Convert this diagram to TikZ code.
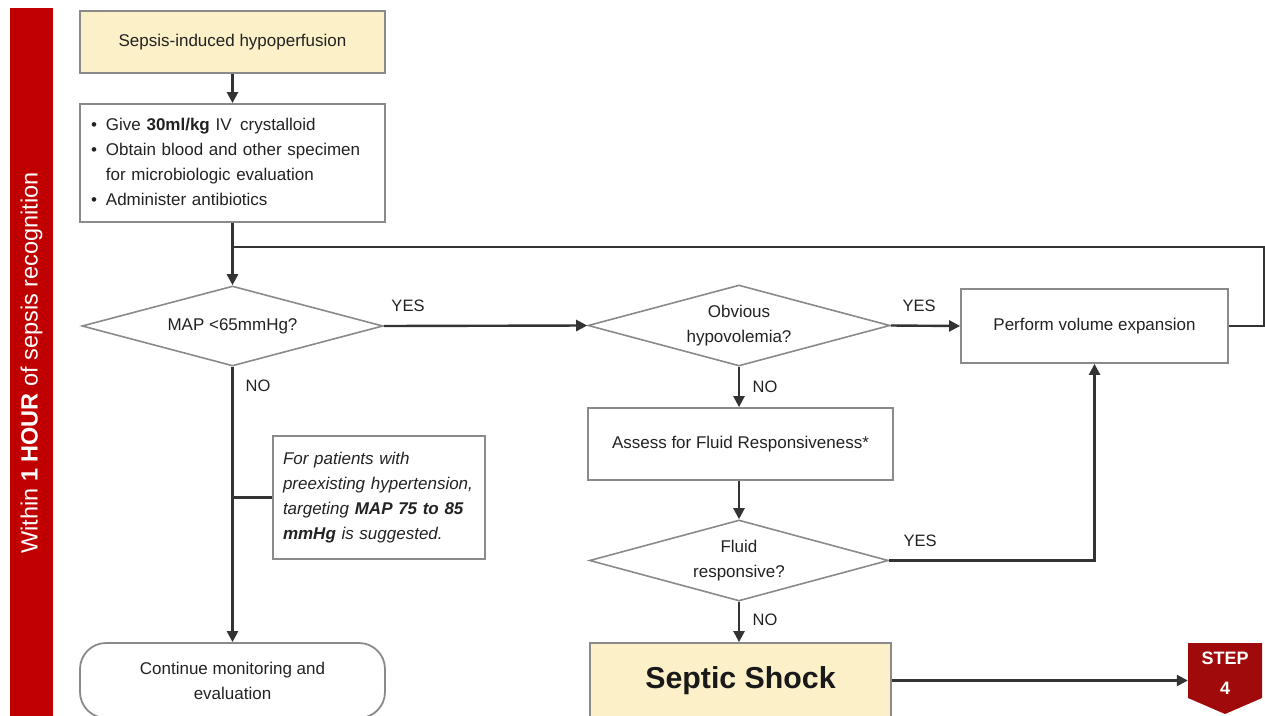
\documentclass[tikz,border=0pt]{standalone}
\usepackage{fontspec}
\setmainfont{Liberation Sans}
\usetikzlibrary{shapes.geometric,arrows.meta}
\definecolor{boxyellow}{HTML}{FCF0C8}
\definecolor{barred}{HTML}{C00000}
\definecolor{stepred}{HTML}{A00A0A}
\definecolor{bordergray}{HTML}{8A8A8A}
\definecolor{linedark}{HTML}{333333}
\definecolor{txt}{HTML}{222222}
\begin{document}
\begin{tikzpicture}[x=1pt,y=-1pt,
  box/.style={draw=bordergray, line width=1.8pt, rectangle, inner sep=0pt, align=center, text=txt, font=\fontsize{17}{25}\selectfont},
  dia/.style={draw=bordergray, line width=1.6pt, diamond, inner sep=0pt, align=center, text=txt, font=\fontsize{17}{25}\selectfont},
  conn/.style={draw=linedark, line width=2.4pt},
  arr/.style={conn, -{Triangle[length=11pt,width=11pt]}},
  lbl/.style={font=\fontsize{16.5}{20}\selectfont, text=txt, inner sep=0pt}
]
\useasboundingbox (0,0) rectangle (1265,715);

% side bar
\node[fill=barred, rotate=90, minimum width=710pt, minimum height=43pt, inner sep=0pt,
      text=white, font=\fontsize{23.5}{28}\selectfont] (side) at (31.5,363)
      {Within \textbf{1 HOUR} of sepsis recognition};

% left column
\node[box, fill=boxyellow, minimum width=305pt, minimum height=62pt] (hypo) at (232.5,42) {Sepsis-induced hypoperfusion};
\node[box, minimum height=118pt, inner xsep=11pt, text width=283pt, align=left] (bundle) at (232.5,163)
  {\begin{tabular}{@{}l@{\hspace{9pt}}l@{}}
   \textbullet & Give \textbf{30ml/kg} IV\, crystalloid\\
   \textbullet & Obtain blood and other specimen\\
               & for microbiologic evaluation\\
   \textbullet & Administer antibiotics
   \end{tabular}};
\node[dia, minimum width=301pt, minimum height=80pt, aspect=3.76] (map) at (232.5,326) {MAP <65mmHg?};
\node[box, minimum height=123pt, inner xsep=10pt, text width=192pt, align=left, font=\itshape\fontsize{17}{25}\selectfont] (note) at (379,497.5)
  {For patients with\\preexisting hypertension,\\targeting \textbf{MAP 75 to 85}\\\textbf{mmHg} is suggested.};
\node[box, rounded corners=26pt, minimum width=305pt, minimum height=75pt] (cont) at (232.5,680.5) {Continue monitoring and\\evaluation};

% middle column
\node[dia, minimum width=302pt, minimum height=81pt, aspect=3.73] (hypov) at (739,325.5) {Obvious\\hypovolemia?};
\node[box, minimum width=305pt, minimum height=72pt] (assess) at (740.5,444) {Assess for Fluid Responsiveness*};
\node[dia, minimum width=299pt, minimum height=81pt, aspect=3.69] (fluid) at (739,560.5) {Fluid\\responsive?};
\node[box, fill=boxyellow, minimum width=301pt, minimum height=75pt, font=\bfseries\fontsize{30.3}{34}\selectfont, text=black!90] (shock) at (740.5,680.5) {Septic Shock};

% right column
\node[box, minimum width=267pt, minimum height=74pt] (vol) at (1094.5,326) {Perform volume expansion};

% step 4 marker
\fill[stepred] (1188,643) -- (1262,643) -- (1262,698) -- (1225,714) -- (1188,698) -- cycle;
\node[minimum width=74pt, minimum height=55pt, inner sep=0pt, text=white, align=center,
      font=\bfseries\fontsize{18}{30}\selectfont] (step) at (1225,673.5) {STEP\\4};

% connectors
\draw[arr] (hypo.south) -- (bundle.north);
\draw[arr] (bundle.south) -- (map.north);
\coordinate (loopR) at (1264,247);
\draw[conn] (vol.east) -| (loopR) -- (loopR -| map.north);
\draw[arr] (map.east) -- (hypov.west);
\draw[arr] (map.south) -- (cont.north);
\draw[conn] (note.west) -- (note.west -| map.south);
\draw[arr] (hypov.east) -- (vol.west);
\draw[arr] (hypov.south) -- (hypov.south |- assess.north);
\draw[arr] (assess.south -| fluid.north) -- (fluid.north);
\draw[arr] (fluid.east) -| (vol.south);
\draw[arr] (fluid.south) -- (fluid.south |- shock.north);
\draw[arr] (shock.east) -- (shock.east -| step.west);

% labels
\node[lbl] at (408,306) {YES};
\node[lbl] at (258,386) {NO};
\node[lbl] at (919,306) {YES};
\node[lbl] at (765,387) {NO};
\node[lbl] at (920,541) {YES};
\node[lbl] at (765,620) {NO};
\end{tikzpicture}
\end{document}
